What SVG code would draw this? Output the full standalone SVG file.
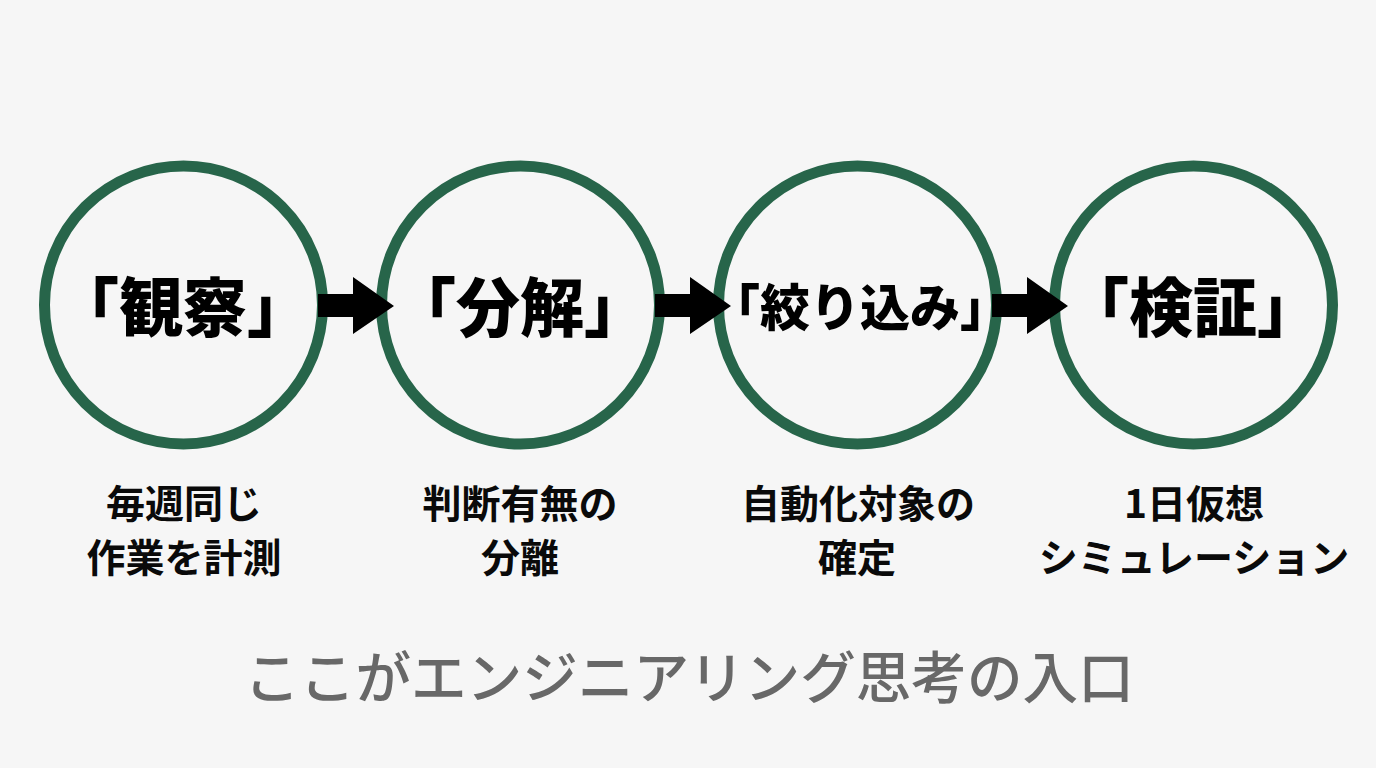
<svg xmlns="http://www.w3.org/2000/svg" width="1376" height="768" viewBox="0 0 1376 768">
<style>
text{font-family:"Noto Sans CJK JP","Liberation Sans",sans-serif;text-anchor:middle;fill:#000}
.c{fill:none;stroke:#27654a;stroke-width:11}
.t{font-size:64px;font-weight:900}
.t3{font-size:50px;font-weight:900}
.s{font-size:39px;font-weight:700;fill:#0a0a0a}
.f{font-size:55.6px;font-weight:500;fill:#686868}
</style>
<rect width="1376" height="768" fill="#f6f6f6"/>
<g id="n1"><circle class="c" cx="183.5" cy="305" r="139"/><text class="t" x="183" y="331">「観察」</text><text class="s" x="184" y="518">毎週同じ</text><text class="s" x="184" y="572">作業を計測</text></g>
<g id="n2"><circle class="c" cx="520.5" cy="305" r="139"/><text class="t" x="520" y="331">「分解」</text><text class="s" x="520" y="518">判断有無の</text><text class="s" x="520" y="572">分離</text></g>
<g id="n3"><circle class="c" cx="857.5" cy="305" r="139"/><text class="t3" x="860" y="326">「絞り込み」</text><text class="s" x="858" y="518">自動化対象の</text><text class="s" x="857" y="572">確定</text></g>
<g id="n4"><circle class="c" cx="1193.5" cy="305" r="139"/><text class="t" x="1193" y="331">「検証」</text><text class="s" x="1194" y="518">1日仮想</text><text class="s" x="1194" y="572">シミュレーション</text></g>
<g id="connectors">
<polygon points="318,294 353,294 353,277 394,306 353,334 353,317 318,317"/>
<polygon points="655,294 690,294 690,277 731,306 690,334 690,317 655,317"/>
<polygon points="992,294 1027,294 1027,277 1068,306 1027,334 1027,317 992,317"/>
</g>
<text id="footer" class="f" x="689" y="698">ここがエンジニアリング思考の入口</text>
</svg>
